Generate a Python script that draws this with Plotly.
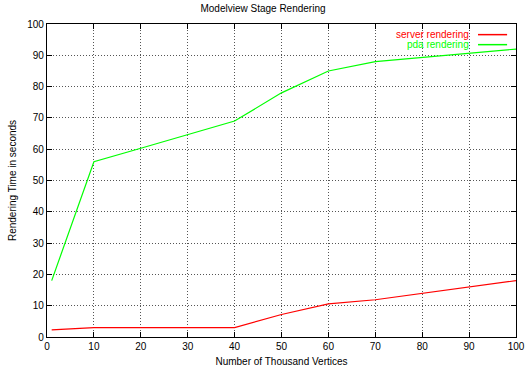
import plotly.graph_objects as go

x_server = [1, 10, 20, 30, 40, 50, 60, 70, 80, 90, 100]
y_server = [2.3, 3.0, 3.0, 3.0, 3.0, 7.2, 10.6, 11.9, 13.9, 16.0, 18.0]
x_pda = [1, 10, 20, 30, 40, 50, 60, 70, 80, 90, 100]
y_pda = [18, 56, 60.3, 64.6, 69, 78, 85, 88, 89.3, 90.7, 92]
x_ticks = [0, 10, 20, 30, 40, 50, 60, 70, 80, 90, 100]
y_ticks = [0, 10, 20, 30, 40, 50, 60, 70, 80, 90, 100]
names = ["server rendering", "pda rendering"]
colors = ["#ff0000", "#00ff00"]

font = "Liberation Sans, Arial, Helvetica, sans-serif"
fs = 10

fig = go.Figure()
fig.add_trace(go.Scatter(x=x_server, y=y_server, mode="lines", name=names[0],
                         line=dict(color=colors[0], width=1.2), showlegend=False))
fig.add_trace(go.Scatter(x=x_pda, y=y_pda, mode="lines", name=names[1],
                         line=dict(color=colors[1], width=1.2), showlegend=False))

axis_common = dict(
    showline=True, linecolor="black", linewidth=1.2, mirror="ticks",
    ticks="inside", ticklen=5, tickcolor="black", tickwidth=1,
    showgrid=True, gridcolor="#555555", griddash="1px,2px", gridwidth=1,
    zeroline=False, automargin=False,
    tickfont=dict(family=font, size=fs, color="black"),
)

fig.update_xaxes(range=[0, 100], tickvals=x_ticks, ticktext=[str(v) for v in x_ticks],
                 title=dict(text="Number of Thousand Vertices", font=dict(family=font, size=fs, color="black"), standoff=6),
                 **axis_common)
fig.update_yaxes(range=[0, 100], tickvals=y_ticks, ticktext=[str(v) for v in y_ticks],
                 title=dict(text="Rendering Time in seconds", font=dict(family=font, size=fs, color="black"), standoff=8),
                 **axis_common)

# gnuplot-style legend: text right-aligned, sample line to the right
legend_y = [0.966, 0.934]
for name, color, ly in zip(names, colors, legend_y):
    fig.add_annotation(x=0.902, y=ly, xref="paper", yref="paper", text=name,
                       showarrow=False, xanchor="right", yanchor="middle",
                       borderpad=0, font=dict(family=font, size=fs, color=color))
    fig.add_shape(type="line", xref="paper", yref="paper", x0=0.919, x1=0.981,
                  y0=ly, y1=ly, line=dict(color=color, width=1.5))

fig.update_layout(
    width=526, height=373,
    margin=dict(l=47, r=10, t=24, b=36),
    paper_bgcolor="white", plot_bgcolor="white",
    title=dict(text="Modelview Stage Rendering", x=0.5, xanchor="center", y=0.978, yanchor="middle",
               font=dict(family=font, size=fs, color="black")),
)

fig.write_html("out.html", config={"displayModeBar": False},
               post_script="document.body.style.margin='0px';document.body.style.padding='0px';")
